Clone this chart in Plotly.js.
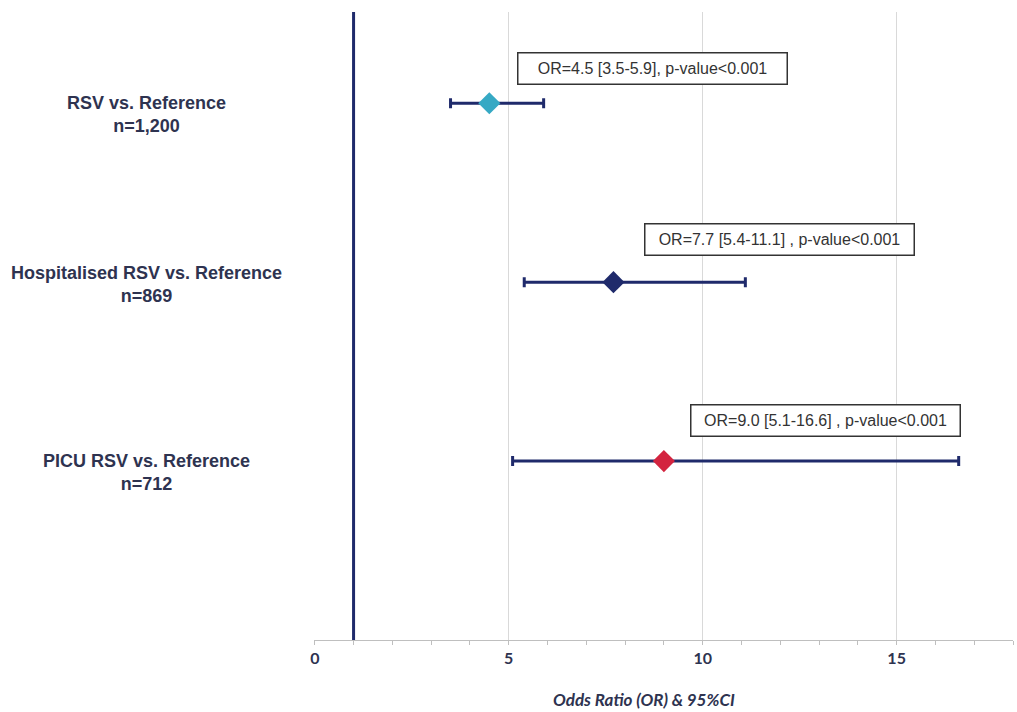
<!DOCTYPE html>
<html>
<head>
<meta charset="utf-8">
<script src="https://cdn.plot.ly/plotly-3.0.1.min.js"></script>
<style>html,body{margin:0;padding:0;background:#fff;}#chart{width:1017px;height:712px;}</style>
</head>
<body>
<div id="chart"></div>
<script>
const groups = ["RSV vs. Reference", "Hospitalised RSV vs. Reference", "PICU RSV vs. Reference"];
const sampleSizes = ["n=1,200", "n=869", "n=712"];
const oddsRatios = [4.5, 7.7, 9.0];
const ciLower = [3.5, 5.4, 5.1];
const ciUpper = [5.9, 11.1, 16.6];
const boxTexts = ["OR=4.5 [3.5-5.9], p-value<0.001", "OR=7.7 [5.4-11.1] , p-value<0.001", "OR=9.0 [5.1-16.6] , p-value<0.001"];
const markerColors = ["#36A9C4", "#1F2A6B", "#D3243F"];
const referenceOR = 1;
const xTicks = [0, 5, 10, 15];

const navy = "#1F2A6B";
const textCol = "#2E3350";

const traces = groups.map((g, i) => ({
  type: "scatter",
  mode: "markers",
  x: [oddsRatios[i]],
  y: [g],
  marker: { symbol: "diamond", size: 17, color: markerColors[i], line: { width: 0 } },
  error_x: {
    type: "data", symmetric: false,
    array: [ciUpper[i] - oddsRatios[i]],
    arrayminus: [oddsRatios[i] - ciLower[i]],
    color: navy, thickness: 3, width: 5
  },
  showlegend: false,
  hoverinfo: "x+y"
}));

// box label positions (style, in axis units / pixel offsets)
const boxX = [8.71, 11.98, 13.16];
const boxShift = [35, 43, 41];
const labelShift = [-11, -2, -11];

const annotations = [];
groups.forEach((g, i) => {
  annotations.push({
    xref: "paper", yref: "y", x: -0.239, y: g, xanchor: "center", yanchor: "middle",
    yshift: labelShift[i], showarrow: false, align: "center",
    text: "<b>" + g + "</b><br><b>" + sampleSizes[i] + "</b>",
    font: { family: "Liberation Sans, Arial, sans-serif", size: 18, color: textCol }
  });
  annotations.push({
    xref: "x", yref: "y", x: boxX[i], y: g, xanchor: "center", yanchor: "middle",
    yshift: boxShift[i], showarrow: false,
    text: boxTexts[i], width: 268, height: 30,
    bordercolor: "#333333", borderwidth: 1.5, borderpad: 0, bgcolor: "#ffffff",
    font: { family: "Liberation Sans, Arial, sans-serif", size: 16, color: "#333333" }
  });
});
annotations.push({
  xref: "paper", yref: "paper", x: (644 - 314) / 699, y: 0, yshift: -59,
  xanchor: "center", yanchor: "middle", showarrow: false,
  text: "<b><i>Odds Ratio (OR) &amp; 95%CI</i></b>",
  font: { family: "Lato, Open Sans, sans-serif", size: 17, color: textCol }
});

const layout = {
  width: 1017, height: 712,
  margin: { l: 314, r: 4, t: 12, b: 72 },
  paper_bgcolor: "#ffffff", plot_bgcolor: "#ffffff",
  xaxis: {
    range: [-0.02, 18], tickvals: xTicks, ticktext: xTicks.map(String),
    showgrid: true, gridcolor: "#D9D9D9", gridwidth: 1,
    zeroline: false, showline: true, linecolor: "#BFBFBF", linewidth: 1,
    ticks: "outside", ticklen: 4, tickcolor: "#BFBFBF",
    minor: { dtick: 1, tick0: 0, ticks: "outside", ticklen: 4, tickcolor: "#BFBFBF", showgrid: false },
    tickfont: { family: "Lato, sans-serif", size: 16, color: textCol, weight: "bold" },
    fixedrange: true
  },
  yaxis: {
    type: "category", categoryorder: "array", categoryarray: groups.slice().reverse(),
    range: [-1, 2.51], showticklabels: false, showgrid: false, zeroline: false,
    showline: false, ticks: "", fixedrange: true
  },
  shapes: [{
    type: "line", xref: "x", yref: "paper", x0: referenceOR, x1: referenceOR, y0: 0, y1: 1,
    line: { color: navy, width: 3 }, layer: "below"
  }],
  annotations: annotations
};

Plotly.newPlot("chart", traces, layout, { displayModeBar: false, responsive: false });
</script>
</body>
</html>
